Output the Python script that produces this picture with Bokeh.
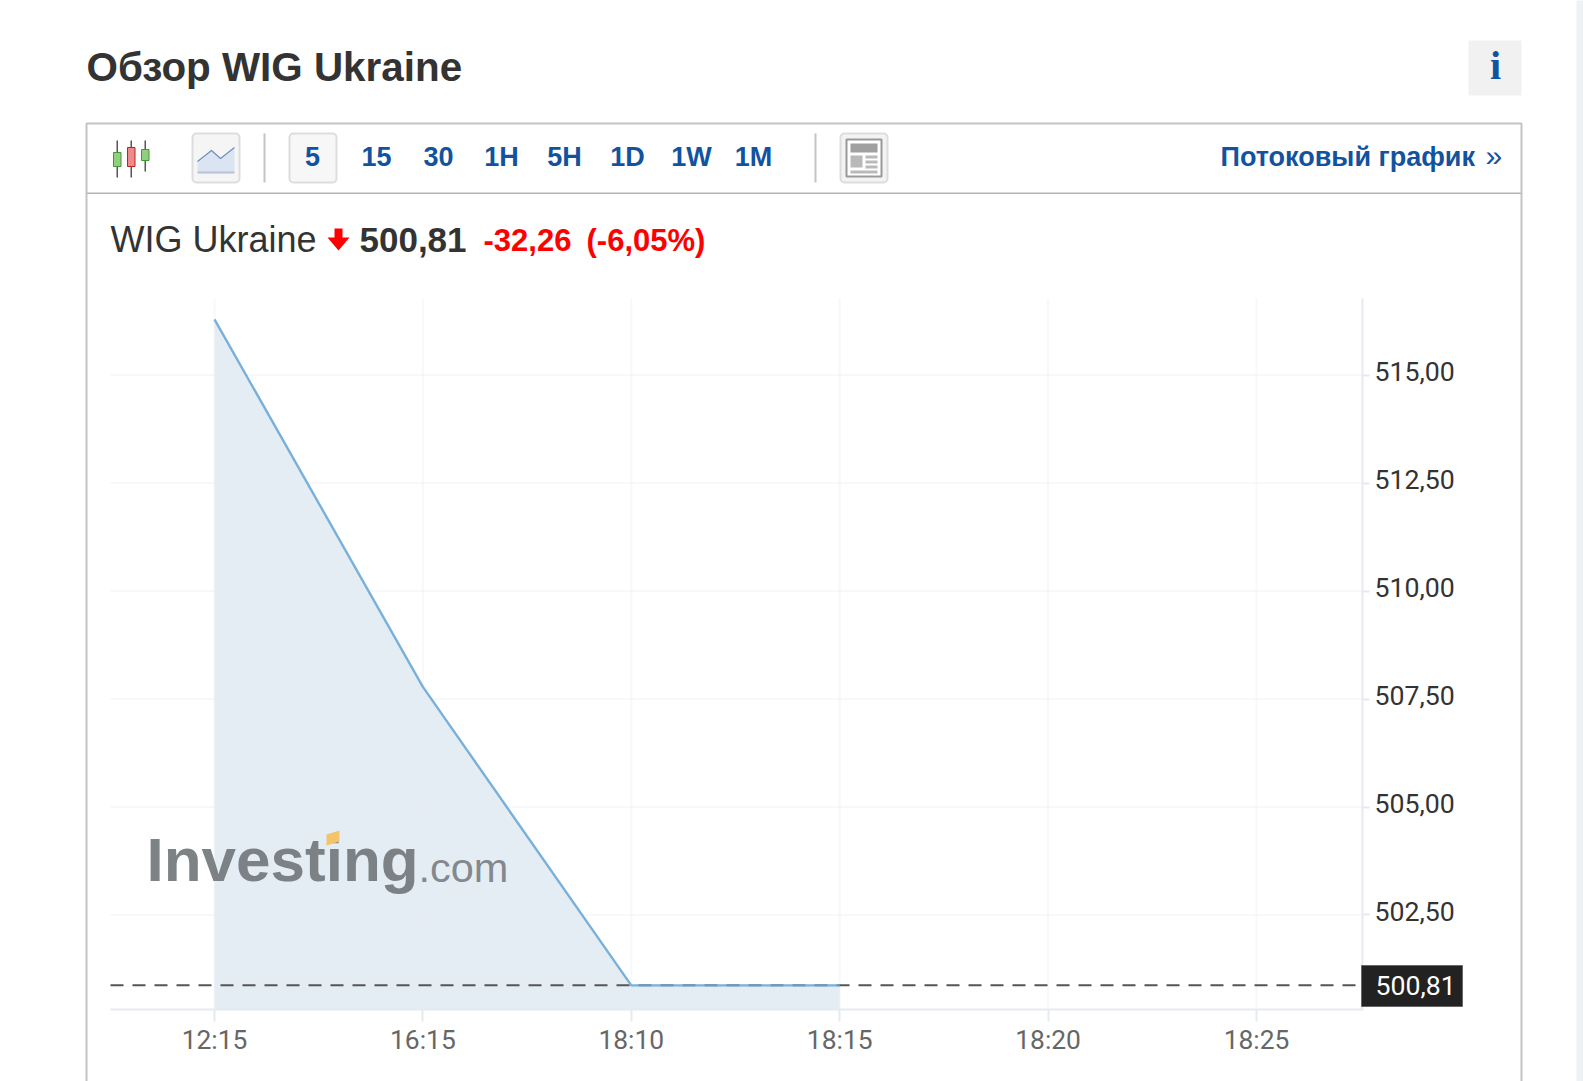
from bokeh.plotting import figure
from bokeh.models import Label, BoxAnnotation, PolyAnnotation, FixedTicker, Range1d, LinearAxis
from bokeh.embed import file_html
from bokeh.resources import INLINE

# ---- data ----
time_labels = ["12:15", "16:15", "18:10", "18:15", "18:20", "18:25"]
point_index = [0, 1, 2, 3]
close_values = [516.29, 507.78, 500.87, 500.87]   # as plotted against the grid
y_ticks = [502.5, 505.0, 507.5, 510.0, 512.5, 515.0]
last_level = 500.87
last_text = "500,81"
timeframes = ["5", "15", "30", "1H", "5H", "1D", "1W", "1M"]

# ---- page layout in window pixels ----
W, H = 1583, 1081
X0, PX_X = 214.0, 208.4      # pixel of category 0, pixels per category
Y515, PX_Y = 374.6, 43.19    # pixel of 515,00, pixels per unit
BLUE = "#12539f"
RED = "#ff0000"
DARK = "#333333"
GRID = "#e8eaf0"
AXIS = "#e6e9f0"


def xv(X):
    return (X - X0) / PX_X


def yv(Y):
    return 515 + (Y515 - Y) / PX_Y


X_L, X_R, Y_T, Y_B = xv(110), xv(1362), yv(298), yv(1009)

p = figure(width=W, height=H, output_backend="svg", toolbar_location=None,
           x_range=Range1d(xv(0), xv(W)), y_range=Range1d(yv(H), yv(0)),
           x_axis_location="below", y_axis_location="right",
           min_border=0, min_border_left=0, min_border_right=0, min_border_top=0, min_border_bottom=0)
p.outline_line_color = None
p.background_fill_color = "#ffffff"
p.border_fill_color = "#ffffff"
p.xgrid.visible = False
p.ygrid.visible = False

xa = p.xaxis[0]
xa.fixed_location = Y_B
xa.bounds = (X_L, X_R)
xa.ticker = FixedTicker(ticks=list(range(len(time_labels))))
xa.major_label_overrides = {i: t for i, t in enumerate(time_labels)}
xa.major_label_text_font = "Roboto"
xa.major_label_text_font_size = "26.4px"
xa.major_label_text_color = "#666666"
xa.axis_line_color = AXIS
xa.axis_line_width = 2
xa.major_tick_line_color = AXIS
xa.major_tick_line_width = 2
xa.major_tick_in = 0
xa.major_tick_out = 12
xa.minor_tick_line_color = None
xa.major_label_standoff = 3

ya = p.yaxis[0]
ya.fixed_location = X_R
ya.bounds = (Y_B, Y_T)
ya.ticker = FixedTicker(ticks=y_ticks)
ya.major_label_overrides = {v: "" for v in y_ticks}
ya.axis_line_color = AXIS
ya.axis_line_width = 2
ya.major_tick_line_color = AXIS
ya.major_tick_line_width = 2
ya.major_tick_in = 0
ya.major_tick_out = 7
ya.minor_tick_line_color = None

# tick labels sit about 3px above their grid lines in the reference
LIFT = 3.5 / PX_Y
p.extra_y_ranges = {"labels": Range1d(yv(H) - LIFT, yv(0) - LIFT)}
yl = LinearAxis(y_range_name="labels", ticker=FixedTicker(ticks=y_ticks), fixed_location=X_R)
yl.major_label_overrides = {v: f"{v:.2f}".replace(".", ",") for v in y_ticks}
yl.major_label_text_font = "Roboto"
yl.major_label_text_font_size = "26.7px"
yl.major_label_text_color = "#333333"
yl.axis_line_color = None
yl.major_tick_line_color = None
yl.minor_tick_line_color = None
yl.major_tick_in = 0
yl.major_tick_out = 7
yl.major_label_standoff = 5
p.add_layout(yl, "right")

n_y, n_x = len(y_ticks), len(time_labels)
p.varea(point_index, [Y_B] * len(point_index), close_values, fill_color="#e4edf4")
p.segment([X_L] * n_y, y_ticks, [X_R] * n_y, y_ticks, line_color=GRID, line_width=2, line_alpha=0.35)
p.segment(list(range(n_x)), [Y_B] * n_x, list(range(n_x)), [Y_T] * n_x, line_color=GRID,
          line_width=2, line_alpha=0.35)
p.line([X_L, X_R], [last_level, last_level], line_color="#555555", line_width=2, line_dash="13 9")
p.line(point_index, close_values, line_color="#6ba8d6", line_width=2.4, line_alpha=0.9)


def fx(X):
    return X


def fy(Y):
    return H - Y


def box(l, r, t, b, fill=None, line=None, lw=1, radius=0, level="annotation"):
    p.add_layout(BoxAnnotation(left=fx(l), right=fx(r), top=fy(t), bottom=fy(b),
                               left_units="screen", right_units="screen",
                               top_units="screen", bottom_units="screen",
                               fill_color=fill, fill_alpha=1 if fill else 0,
                               line_color=line, line_alpha=1 if line else 0, line_width=lw,
                               border_radius=radius, level=level, editable=False))


def poly(xs, ys, fill=None, line=None, lw=1, level="annotation"):
    p.add_layout(PolyAnnotation(xs=[fx(v) for v in xs], ys=[fy(v) for v in ys],
                                xs_units="screen", ys_units="screen",
                                fill_color=fill, fill_alpha=1 if fill else 0,
                                line_color=line, line_alpha=1 if line else 0, line_width=lw,
                                level=level))


def text(X, Y, s, font="Liberation Sans", size=30, color=DARK, style="normal",
         align="left", baseline="alphabetic", level="annotation", alpha=1.0):
    # an alphabetic Label lands about 0.37em under its anchor here
    y = Y - 0.37 * size if baseline == "alphabetic" else Y
    p.add_layout(Label(x=fx(X), y=fy(y), x_units="screen", y_units="screen", text=s,
                       text_font=font, text_font_size=f"{size}px", text_color=color,
                       text_font_style=style, text_align=align, text_baseline=baseline,
                       text_alpha=alpha, level=level))


# scrollbar strip
box(1576, 1590, -5, 1090, "#eef1f6")

# widget frame
box(86, 1521, 123, 1095, None, "#c4c4c4", 2)
box(86, 1521, 192, 193.5, "#b5b5b5", None)

# heading
text(86, 81, "Обзор WIG Ukraine", size=40.4, style="bold", color="#333333")
box(1468, 1521, 40, 95, "#f1f1f1")
text(1495, 80, "i", font="Liberation Serif", size=40, style="bold", color=BLUE, align="center")

# candle icon
for cx, y0, y1, by0, by1, col, edge in [(116, 140, 177, 152, 166, "#8fd07f", "#3f9a32"),
                                        (130, 140, 177, 147, 166, "#f08a8a", "#b52525"),
                                        (144, 140, 171, 149, 160, "#8fd07f", "#3f9a32")]:
    box(cx, cx + 1.5, y0, y1, "#555555")
    box(cx - 3, cx + 4.5, by0, by1, col, edge, 1)

# line icon button
box(192, 239, 133, 182, "#f5f5f5", "#dddddd", 2, 4)
poly([197, 197, 211, 220, 234, 234], [172, 161, 150, 158, 147, 172], "#dbe4f3")
poly([197, 211, 220, 234, 220, 211], [161, 150, 158, 147, 158, 150], None, "#6d90bd", 1.2)
box(197, 234, 171, 173, "#b9c3d3")

# separators
box(263, 265, 133, 182, "#c4c4c4")
box(814, 816, 133, 182, "#c4c4c4")

# timeframe buttons
box(289, 336, 133, 182, "#f7f7f7", "#dddddd", 2, 4)
tf_x = [312, 376, 438, 501, 564, 627, 691, 753]
for cx, t in zip(tf_x, timeframes):
    text(cx, 166, t, size=27, style="bold", color=BLUE, align="center")

# news icon
box(840, 887, 133, 182, "#f3f3f3", "#dddddd", 2, 4)
box(846, 881, 139, 176, "#ffffff", "#999999", 2)
box(850, 877, 143, 152, "#a0a0a0")
box(850, 862, 155, 167, "#b9b9b9")
for yy in (155, 160, 165):
    box(865, 877, yy, yy + 3, "#b9b9b9")
box(850, 877, 170, 173, "#b9b9b9")

# stream link
text(1220, 166, "Потоковый график", size=27, style="bold", color=BLUE)
text(1485, 166, "»", size=30, color=BLUE)

# quote line
text(110, 252, "WIG Ukraine", size=36, color="#333333")
poly([334, 342, 342, 349, 338, 327, 334], [228, 228, 237, 237, 250, 237, 237], RED)
text(359, 252, "500,81", size=35, style="bold", color="#333333")
text(483, 251, "-32,26", size=31, style="bold", color=RED)
text(586, 251, "(-6,05%)", size=31, style="bold", color=RED)

# watermark
text(146, 882, "Investing", size=62, style="bold", color="#6f7478", alpha=0.9, level="overlay")
text(418, 882, ".com", size=41.5, color="#777b7f", alpha=0.9, level="overlay")
poly([326, 339, 339, 326], [834, 830, 841, 845], "#f3c469", level="overlay")

# last price tag
box(1361, 1462, 965, 1006, "#222222", "#666666", 1, level="overlay")
text(1375, 985, last_text, font="Roboto", size=26.7, color="#ffffff", baseline="middle", level="overlay")

open("out.html", "w").write(file_html(p, INLINE))
